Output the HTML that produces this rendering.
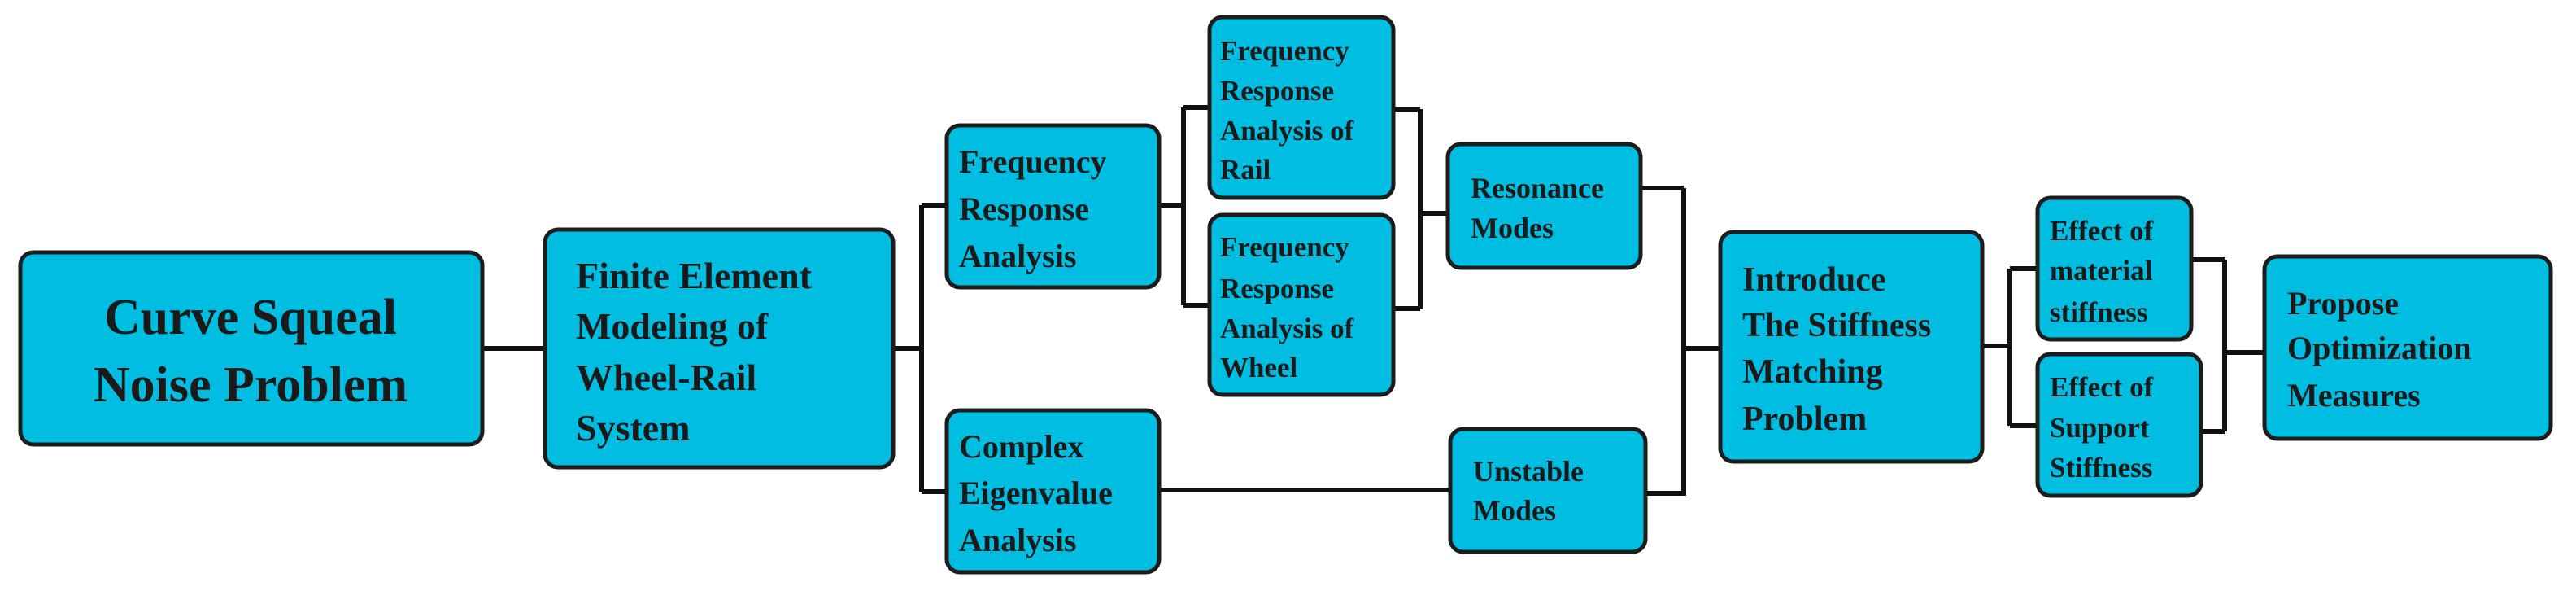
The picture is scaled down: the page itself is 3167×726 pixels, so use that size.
<!DOCTYPE html>
<html><head><meta charset="utf-8"><style>
html,body{margin:0;padding:0;background:#fff;width:3167px;height:726px;overflow:hidden}
svg{display:block}
text{font-family:"Liberation Serif",serif;font-weight:bold;fill:#1a1a1a}
</style></head><body>
<svg width="3167" height="726" viewBox="0 0 3167 726" xmlns="http://www.w3.org/2000/svg">
<g fill="none" stroke="#111" stroke-width="6">
<path d="M593 428 H670"/>
<path d="M1098 428 H1133 M1133 252 V604 M1133 252 H1164 M1133 604 H1164"/>
<path d="M1425 252 H1455 M1455 132 V375 M1455 132 H1487 M1455 375 H1487"/>
<path d="M1713 134 H1746 M1713 379 H1746 M1746 134 V379 M1746 262 H1780"/>
<path d="M1425 602 H1783"/>
<path d="M2017 231 H2070 M2023 606 H2070 M2070 231 V609 M2070 428 H2115"/>
<path d="M2437 425 H2471 M2471 330 V523 M2471 330 H2505 M2471 523 H2505"/>
<path d="M2694 319 H2735 M2706 530 H2735 M2735 319 V530 M2735 433 H2784"/>
</g>
<g fill="#00bee2" stroke="#1c1c1c" stroke-width="5">
<rect x="25" y="310" width="568" height="236" rx="16"/>
<rect x="670" y="282" width="428" height="292" rx="16"/>
<rect x="1164" y="154" width="261" height="199" rx="16"/>
<rect x="1164" y="504" width="261" height="199" rx="16"/>
<rect x="1487" y="21" width="226" height="222" rx="16"/>
<rect x="1487" y="264" width="226" height="221" rx="16"/>
<rect x="1780" y="177" width="237" height="152" rx="16"/>
<rect x="1783" y="527" width="240" height="151" rx="16"/>
<rect x="2115" y="285" width="322" height="282" rx="16"/>
<rect x="2505" y="243" width="189" height="174" rx="16"/>
<rect x="2505" y="435" width="201" height="174" rx="16"/>
<rect x="2784" y="315" width="352" height="224" rx="16"/>
</g>
<text font-size="62" text-anchor="middle"><tspan x="308" y="410">Curve Squeal</tspan><tspan x="308" y="493">Noise Problem</tspan></text>
<text font-size="46"><tspan x="708" y="354">Finite Element</tspan><tspan x="708" y="416">Modeling of</tspan><tspan x="708" y="479">Wheel-Rail</tspan><tspan x="708" y="541">System</tspan></text>
<text font-size="40"><tspan x="1179" y="212">Frequency</tspan><tspan x="1179" y="270">Response</tspan><tspan x="1179" y="328">Analysis</tspan></text>
<text font-size="40"><tspan x="1179" y="562">Complex</tspan><tspan x="1179" y="619">Eigenvalue</tspan><tspan x="1179" y="677">Analysis</tspan></text>
<text font-size="35"><tspan x="1500" y="74">Frequency</tspan><tspan x="1500" y="123">Response</tspan><tspan x="1500" y="172">Analysis of</tspan><tspan x="1500" y="220">Rail</tspan></text>
<text font-size="35"><tspan x="1500" y="315">Frequency</tspan><tspan x="1500" y="366">Response</tspan><tspan x="1500" y="415">Analysis of</tspan><tspan x="1500" y="463">Wheel</tspan></text>
<text font-size="36"><tspan x="1808" y="243">Resonance</tspan><tspan x="1808" y="292">Modes</tspan></text>
<text font-size="36"><tspan x="1811" y="591">Unstable</tspan><tspan x="1811" y="639">Modes</tspan></text>
<text font-size="42"><tspan x="2142" y="357">Introduce</tspan><tspan x="2142" y="413">The Stiffness</tspan><tspan x="2142" y="470">Matching</tspan><tspan x="2142" y="528">Problem</tspan></text>
<text font-size="35"><tspan x="2520" y="295">Effect of</tspan><tspan x="2520" y="344">material</tspan><tspan x="2520" y="395">stiffness</tspan></text>
<text font-size="35"><tspan x="2520" y="487">Effect of</tspan><tspan x="2520" y="537">Support</tspan><tspan x="2520" y="586">Stiffness</tspan></text>
<text font-size="40"><tspan x="2812" y="386">Propose</tspan><tspan x="2812" y="441">Optimization</tspan><tspan x="2812" y="499">Measures</tspan></text>
</svg>
</body></html>
